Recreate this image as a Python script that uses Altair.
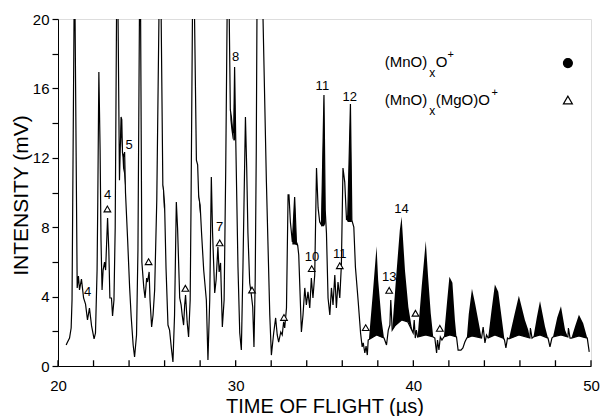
import altair as alt
import pandas as pd

# ---- main trace (time of flight in microseconds, intensity in mV) ----
trace_t = [20.46,20.51,20.65,20.74,20.79,20.93,21.08,21.15,21.21,21.32,21.44,21.55,21.66,21.77,21.89,22.03,22.11,22.2,22.24,22.3,
22.37,22.42,22.48,22.54,22.62,22.68,22.79,22.86,22.92,23.01,23.07,23.15,23.22,23.33,23.46,23.55,23.59,23.63,23.69,23.75,
23.8,23.92,24.03,24.12,24.23,24.31,24.42,24.5,24.62,24.72,24.83,24.9,24.99,25.04,25.13,25.18,25.27,25.35,25.44,25.56,
25.75,25.9,25.94,26.0,26.08,26.19,26.28,26.38,26.47,26.56,26.66,26.73,26.85,26.93,26.99,27.07,27.13,27.18,27.27,27.35,
27.44,27.49,27.61,27.79,27.86,27.92,28.0,28.08,28.2,28.35,28.44,28.54,28.63,28.7,28.82,28.9,29.0,29.07,29.15,29.25,
29.35,29.44,29.57,29.7,29.76,29.83,29.89,29.94,30.0,30.13,30.23,30.32,30.41,30.55,30.62,30.69,30.79,30.87,30.96,31.03,
31.1,31.16,31.2,31.35,31.52,31.73,31.92,32.01,32.14,32.25,32.34,32.42,32.54,32.62,32.7,32.76,32.86,32.95,33.0,33.08,
33.19,33.32,33.42,33.49,33.55,33.7,33.79,33.89,33.98,34.07,34.17,34.26,34.35,34.45,34.55,34.64,34.73,34.83,34.97,35.04,
35.11,35.2,35.3,35.39,35.48,35.58,35.67,35.76,35.86,35.95,36.04,36.14,36.24,36.31,36.46,36.54,36.65,36.74,36.89,37.03,
37.12,37.18,37.27,37.34,37.41,37.46,37.55,37.93,38.35,38.49,38.59,38.68,38.73,38.81,38.96,39.34,39.69,39.99,40.05,40.11,
40.17,40.24,40.7,41.12,41.21,41.31,41.36,41.44,41.52,41.61,41.72,42.06,42.43,42.52,42.68,42.79,42.9,43.01,43.3,43.84,
43.93,44.03,44.12,44.21,44.59,45.06,45.13,45.21,45.3,45.38,45.94,46.56,46.59,46.68,46.76,47.13,47.58,47.69,47.8,47.86,
48.31,48.7,48.73,48.82,48.9,49.32,49.79,49.9]
trace_v = [1.21,1.33,1.61,2.19,3.8,24,4.5,5.19,4.38,5.01,3.92,3.57,2.65,3.34,2.31,1.56,1.9,5.53,9.57,16.95,
12.45,7.26,4.38,5.53,5.99,5.53,8.53,6.69,3.92,3.92,2.88,3.8,8.0,26,10.7,14.35,14.2,12.28,12.05,12.33,
9.97,7.26,4.55,2.82,1.21,0.52,1.79,6.69,26,5.99,4.5,3.92,5.07,4.84,5.42,3.8,2.25,2.94,4.38,9.57,
26,10.43,10.14,9.28,5.65,2.36,2.07,1.04,0.23,2.94,9.45,7.95,3.92,3.52,2.94,2.36,3.52,4.09,2.54,1.67,
3.8,9.57,26,11.87,11.59,9.74,9.28,7.67,5.53,3.8,0.35,3.8,10.89,7.67,4.21,4.96,6.86,5.42,5.94,2.25,
3.8,11.3,26,14.76,14.35,13.6,13.43,17.23,13.31,5.71,1.9,0.92,5.71,14.35,11.47,7.67,4.78,4.21,3.4,1.1,
4.96,12.45,20.5,30,21,10.6,2.94,0.63,1.9,2.77,1.79,1.38,1.96,1.79,2.54,2.19,3.34,9.86,9.86,8.3,
7.15,9.74,7.15,6.97,6.4,1.96,2.94,4.5,3.52,4.27,3.34,5.07,3.92,5.24,11.41,9.11,8.3,8.13,15.62,8.99,
7.67,3.92,2.94,4.5,3.52,5.24,3.34,4.84,3.92,5.82,11.41,10.6,8.41,8.7,15.1,8.41,8.01,5.71,3.8,1.9,
1.1,1.33,0.75,1.15,0.63,1.5,1.56,1.79,1.61,1.21,2.07,2.36,3.8,2.07,2.31,2.65,2.54,1.9,2.65,1.61,
2.07,1.67,1.79,1.67,1.61,0.75,1.5,0.92,1.67,1.5,1.67,1.79,1.67,0.92,0.92,1.04,1.38,1.61,1.73,1.61,
2.25,1.33,1.79,1.61,1.79,1.61,1.5,1.04,1.61,1.56,1.79,1.61,2.19,1.61,1.67,1.79,1.61,1.1,1.61,1.67,
1.79,1.67,2.19,1.61,1.61,1.73,1.61,0.81]

# ---- black-filled (MnO)xO+ peaks: segment id, time, lower edge, upper edge ----
fill_seg = ["s5"]*6 + ["s26"]*3 + ["s28"]*3 + ["s8a"]*4 + ["s8"]*3 + ["s33"]*4 + ["s11"]*5 + ["s12"]*4 \
    + ["p1"]*6 + ["p14"]*8 + ["p426"]*6 + ["p450"]*6 + ["pA"]*6 + ["pB"]*6 + ["pC"]*6 + ["pD"]*5 + ["pE"]*5 + ["pF"]*5
fill_t = [23.52,23.56,23.6,23.66,23.72,23.78,
          25.9,25.95,26.0,
          27.9,27.95,28.0,
          29.7,29.76,29.83,29.88,
          29.88,29.94,29.99,
          33.19,33.32,33.42,33.5,
          34.78,34.83,34.97,35.04,35.06,
          36.26,36.31,36.46,36.54,
          37.5,37.72,37.93,38.02,38.21,38.35,
          38.81,39.05,39.24,39.34,39.53,39.72,39.9,39.99,
          40.24,40.47,40.7,40.83,40.98,41.12,
          41.72,41.89,42.03,42.2,42.34,42.43,
          43.01,43.12,43.3,43.47,43.65,43.84,
          44.21,44.4,44.59,44.78,45.06,45.13,
          45.38,45.7,45.94,46.28,46.47,46.56,
          46.76,46.95,47.13,47.41,47.58,
          47.86,48.1,48.31,48.54,48.7,
          48.9,49.1,49.32,49.56,49.79]
fill_lo = [12.9,13.2,12.6,11.4,11.1,10.3,
           10.4,9.2,8.8,
           10.2,9.2,8.7,
           14.2,13.6,13.1,13.0,
           13.0,13.0,13.1,
           7.0,7.0,6.97,6.9,
           8.2,8.05,8.05,8.2,8.3,
           8.4,8.3,8.3,8.3,
           1.53,1.66,1.79,1.74,1.66,1.61,
           2.07,2.39,2.56,2.65,2.6,2.53,2.09,1.9,
           1.67,1.73,1.79,1.75,1.71,1.67,
           1.67,1.73,1.78,1.74,1.7,1.67,
           1.61,1.65,1.73,1.7,1.66,1.61,
           1.61,1.7,1.79,1.71,1.61,1.5,
           1.56,1.69,1.79,1.7,1.64,1.61,
           1.67,1.73,1.79,1.7,1.61,
           1.67,1.74,1.79,1.72,1.67,
           1.61,1.67,1.73,1.66,1.61]
fill_hi = [13.3,14.3,13.2,12.2,12.1,10.9,
           10.5,10.1,9.3,
           10.4,9.7,9.28,
           14.76,14.35,13.6,13.5,
           13.5,17.23,13.35,
           7.15,9.74,7.15,6.97,
           8.25,8.5,15.62,8.99,8.6,
           8.5,8.7,15.1,8.41,
           1.53,4.2,6.9,4.96,2.65,1.61,
           2.07,5.36,7.84,8.6,5.5,3.4,2.27,1.9,
           1.67,4.57,7.2,5.15,3.04,1.67,
           1.67,3.6,5.15,4.8,2.65,1.67,
           1.61,3.0,4.45,3.63,2.65,1.61,
           1.61,3.2,4.7,4.28,2.07,1.5,
           1.56,3.0,4.05,2.65,2.07,1.61,
           1.67,2.8,3.75,2.27,1.61,
           1.67,2.8,3.44,2.07,1.67,
           1.61,2.27,2.96,2.46,1.61]

# ---- open triangles: (MnO)x(MgO)O+ peaks ----
tri_t = [22.78,25.1,27.17,29.1,30.92,32.72,34.28,35.86,37.32,38.64,40.12,41.49]
tri_v = [9.05,6.01,4.48,7.1,4.38,2.8,5.61,5.78,2.21,4.36,3.04,2.17]

# ---- cluster-size labels ----
lab_t = [21.66,22.79,24.0,29.1,30.0,34.3,35.86,34.88,36.42,38.64,39.34]
lab_v = [4.28,9.86,12.74,8.03,17.8,6.3,6.46,16.14,15.52,5.15,9.03]
lab_text = ["4","4","5","7","8","10","11","11","12","13","14"]

# ---- axis ticks ----
x_ticks = list(range(20, 51, 2))
x_labels = [20, 30, 40, 50]
y_ticks = list(range(0, 21, 2))
x_tick_len = 0.33   # inward tick length, in mV units

# ---- legend pieces (text, size, position) ----
leg_text = ["(MnO)", "x", "O", "+", "(MnO)", "x", "(MgO)O", "+"]
leg_size = [15, 12, 15, 11, 15, 12, 15, 11]
leg_t = [38.39, 40.9, 41.26, 41.93, 38.39, 40.9, 41.26, 44.4]
leg_v = [17.52, 16.89, 17.52, 17.95, 15.33, 14.7, 15.33, 15.75]
leg_sym_t = [48.7, 48.7]
leg_sym_v = [17.46, 15.33]
leg_sym = ["circle", "triangle-up"]

FONT = "Liberation Sans"
trace = pd.DataFrame({"t": trace_t, "v": trace_v, "i": range(len(trace_t))})
fills = pd.DataFrame({"seg": fill_seg, "t": fill_t, "lo": fill_lo, "hi": fill_hi})
tris = pd.DataFrame({"t": tri_t, "v": tri_v})
labs = pd.DataFrame({"t": lab_t, "v": lab_v, "txt": lab_text})
leg = pd.DataFrame({"t": leg_t, "v": leg_v, "txt": leg_text, "fs": leg_size})
legs = pd.DataFrame({"t": leg_sym_t, "v": leg_sym_v, "shape": leg_sym})
ticks = pd.DataFrame({"t": [float(v) for v in x_ticks],
                      "v0": [0.0] * len(x_ticks), "v1": [x_tick_len] * len(x_ticks)})

xscale = alt.Scale(domain=[20, 50], nice=False, zero=False)
yscale = alt.Scale(domain=[0, 20], nice=False, zero=False)
xaxis = alt.Axis(title="TIME OF FLIGHT (µs)", values=x_labels, ticks=False, labelFlush=False,
                 labelFontSize=15, labelPadding=12, titleFontSize=20, titleFontWeight="normal",
                 titleY=40, titleBaseline="middle", grid=False, domainColor="black",
                 labelColor="black", titleColor="black", labelFont=FONT, titleFont=FONT)
yaxis = alt.Axis(title="INTENSITY (mV)", values=y_ticks,
                 labelExpr="datum.value % 4 == 0 ? datum.label : ''",
                 tickSize=6, tickColor="black", tickWidth=1.2, labelPadding=3, labelFontSize=15,
                 titleFontSize=21, titleFontWeight="normal", titleX=-37, titleY=176,
                 titleBaseline="middle", grid=False, domainColor="black",
                 labelColor="black", titleColor="black", labelFont=FONT, titleFont=FONT)

X = alt.X("t:Q", scale=xscale, axis=xaxis)
Y = alt.Y("v:Q", scale=yscale, axis=yaxis)

area = alt.Chart(fills).mark_area(color="black", clip=True, opacity=1).encode(
    x=X, y=alt.Y("lo:Q", scale=yscale, axis=yaxis), y2="hi:Q", detail="seg:N")
line = alt.Chart(trace).mark_line(color="black", strokeWidth=1.2, clip=True).encode(
    x=X, y=Y, order="i:Q")
tickmarks = alt.Chart(ticks).mark_rule(color="black", strokeWidth=1.3, opacity=1).encode(
    x=X, y=alt.Y("v0:Q", scale=yscale, axis=yaxis), y2="v1:Q")
tri = alt.Chart(tris).mark_point(shape="triangle-up", size=45, fill="white", fillOpacity=1,
                                 stroke="black", strokeWidth=1.1, opacity=1).encode(x=X, y=Y)
labels = alt.Chart(labs).mark_text(fontSize=13, font=FONT, color="black", baseline="middle",
                                   align="center").encode(x=X, y=Y, text="txt:N")
legtext = alt.Chart(leg).mark_text(font=FONT, color="black", baseline="middle", align="left").encode(
    x=X, y=Y, text="txt:N", size=alt.Size("fs:Q", scale=None, legend=None))
legsym = alt.Chart(legs).mark_point(size=80, stroke="black", strokeWidth=1.2, opacity=1).encode(
    x=X, y=Y,
    shape=alt.Shape("shape:N", scale=None, legend=None),
    fill=alt.condition("datum.shape == 'circle'", alt.value("black"), alt.value("white")))

chart = alt.layer(area, line, tri, labels, legtext, legsym, tickmarks).properties(
    width=533, height=347,
    padding={"left": 58, "top": 19, "right": 9, "bottom": 50},
    autosize=alt.AutoSizeParams(type="none"),
).configure_view(stroke="black", strokeWidth=1).configure(font=FONT, background="white")

chart.save("out.html", embed_options={"renderer": "svg", "actions": False})
